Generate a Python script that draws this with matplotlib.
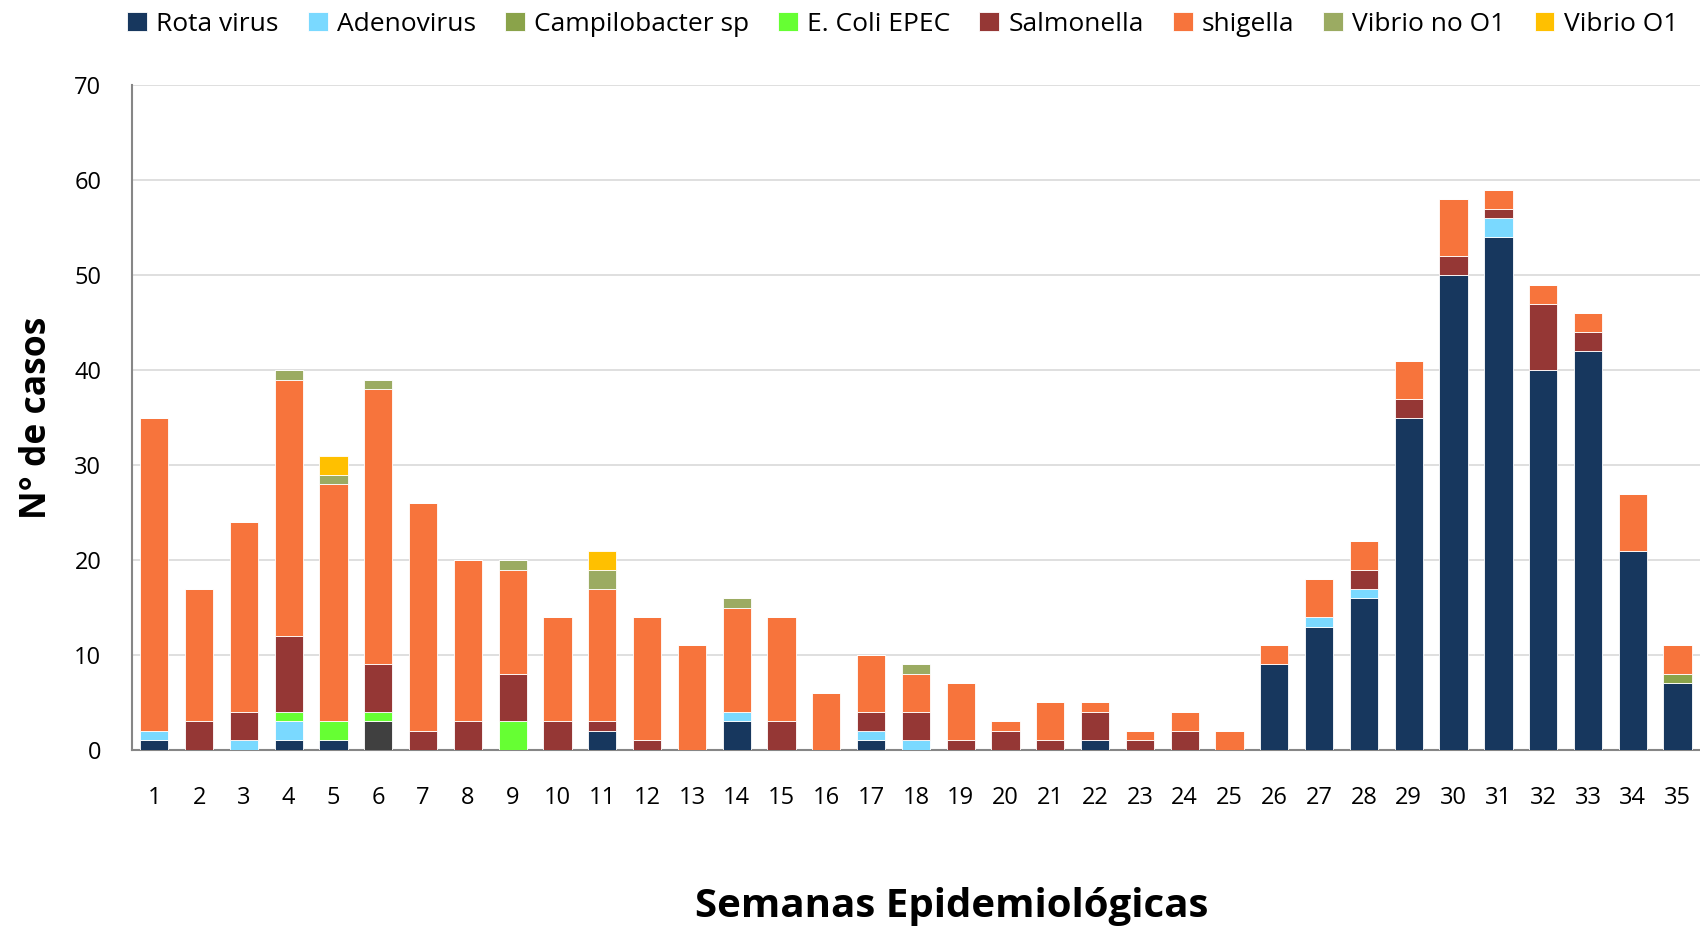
import numpy as np
import matplotlib
matplotlib.use("Agg")
import matplotlib.pyplot as plt

plt.rcParams['font.family'] = ['Open Sans', 'DejaVu Sans']

# Semanas epidemiologicas 1..35
weeks = list(range(1, 36))

# casos por agente (lectura del grafico)
otros = [0, 0, 0, 0, 0, 3, 0, 0, 0, 0, 0, 0, 0, 0, 0, 0, 0, 0, 0, 0,
         0, 0, 0, 0, 0, 0, 0, 0, 0, 0, 0, 0, 0, 0, 0]
rota = [1, 0, 0, 1, 1, 0, 0, 0, 0, 0, 2, 0, 0, 3, 0, 0, 1, 0, 0, 0,
        0, 1, 0, 0, 0, 9, 13, 16, 35, 50, 54, 40, 42, 21, 7]
adeno = [1, 0, 1, 2, 0, 0, 0, 0, 0, 0, 0, 0, 0, 1, 0, 0, 1, 1, 0, 0,
         0, 0, 0, 0, 0, 0, 1, 1, 0, 0, 2, 0, 0, 0, 0]
campilobacter = [0, 0, 0, 0, 0, 0, 0, 0, 0, 0, 0, 0, 0, 0, 0, 0, 0, 0, 0, 0,
                 0, 0, 0, 0, 0, 0, 0, 0, 0, 0, 0, 0, 0, 0, 1]
ecoli_epec = [0, 0, 0, 1, 2, 1, 0, 0, 3, 0, 0, 0, 0, 0, 0, 0, 0, 0, 0, 0,
              0, 0, 0, 0, 0, 0, 0, 0, 0, 0, 0, 0, 0, 0, 0]
salmonella = [0, 3, 3, 8, 0, 5, 2, 3, 5, 3, 1, 1, 0, 0, 3, 0, 2, 3, 1, 2,
              1, 3, 1, 2, 0, 0, 0, 2, 2, 2, 1, 7, 2, 0, 0]
shigella = [33, 14, 20, 27, 25, 29, 24, 17, 11, 11, 14, 13, 11, 11, 11, 6, 6, 4, 6, 1,
            4, 1, 1, 2, 2, 2, 4, 3, 4, 6, 2, 2, 2, 6, 3]
vibrio_no_o1 = [0, 0, 0, 1, 1, 1, 0, 0, 1, 0, 2, 0, 0, 1, 0, 0, 0, 1, 0, 0,
                0, 0, 0, 0, 0, 0, 0, 0, 0, 0, 0, 0, 0, 0, 0]
vibrio_o1 = [0, 0, 0, 0, 2, 0, 0, 0, 0, 0, 2, 0, 0, 0, 0, 0, 0, 0, 0, 0,
             0, 0, 0, 0, 0, 0, 0, 0, 0, 0, 0, 0, 0, 0, 0]

series = [
    ("_otros", otros, "#404040"),
    ("Rota virus", rota, "#17375E"),
    ("Adenovirus", adeno, "#7AD9FF"),
    ("Campilobacter sp", campilobacter, "#8AA34A"),
    ("E. Coli EPEC", ecoli_epec, "#66FF33"),
    ("Salmonella", salmonella, "#953735"),
    ("shigella", shigella, "#F7743C"),
    ("Vibrio no O1", vibrio_no_o1, "#9BAB62"),
    ("Vibrio O1", vibrio_o1, "#FFC000"),
]

fig = plt.figure(figsize=(17, 9.27), dpi=100)
ax = fig.add_axes([0.0776, 0.191, 0.9224, 0.717])

bottom = np.zeros(len(weeks))
for name, vals, col in series:
    ax.bar(weeks, vals, width=0.63, bottom=bottom, color=col, label=name,
           edgecolor="white", linewidth=0.6, zorder=3)
    bottom += np.array(vals)

ax.set_xlim(0.5, 35.5)
ax.set_ylim(0, 70)
ax.set_yticks(range(0, 71, 10))
ax.set_xticks(weeks)
ax.grid(axis="y", color="#D9D9D9", linewidth=1.2, zorder=0)
for s in ["top", "right"]:
    ax.spines[s].set_visible(False)
for s in ["left", "bottom"]:
    ax.spines[s].set_color("#868686")
    ax.spines[s].set_linewidth(1.5)
ax.tick_params(axis="y", length=0, pad=22, labelsize=17)
ax.tick_params(axis="x", length=0, pad=26, labelsize=17)

ax.set_ylabel("N° de casos", fontsize=25.5, fontweight="bold", labelpad=14)
# titulo del eje x, centrado como en el original (algo a la derecha)
fig.text(0.56, 0.011, "Semanas Epidemiológicas", fontsize=29, fontweight="bold",
         ha="center", va="baseline")

# leyenda arriba en una fila
handles, labels = ax.get_legend_handles_labels()
fig.legend(handles, labels, loc="center", bbox_to_anchor=(0.531, 0.974), ncol=8,
           frameon=False, fontsize=19, handlelength=0.75, handleheight=0.75,
           handletextpad=0.35, columnspacing=1.1, borderaxespad=0)

plt.savefig("out.png", dpi=100)
